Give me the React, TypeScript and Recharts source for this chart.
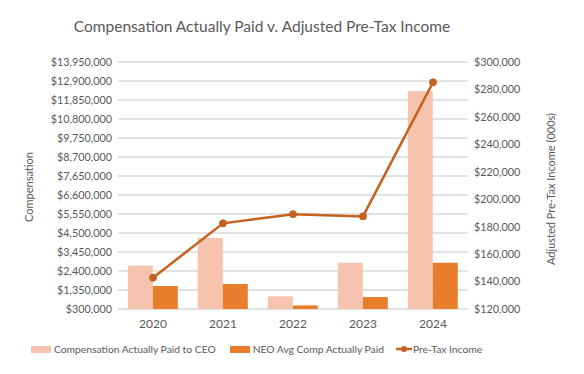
import React from 'react';
import { ComposedChart, Bar, Line, XAxis, YAxis, CartesianGrid } from 'recharts';

const years = ['2020', '2021', '2022', '2023', '2024'];
const ceoPaid = [2690000, 4220000, 1000000, 2850000, 12330000];
const neoAvgPaid = [1570000, 1680000, 500000, 960000, 2850000];
const preTaxIncome = [142800, 182400, 189100, 187500, 285200];

const compTicks = [300000, 1350000, 2400000, 3450000, 4500000, 5550000, 6600000, 7650000, 8700000, 9750000, 10800000, 11850000, 12900000, 13950000];
const incomeTicks = [120000, 140000, 160000, 180000, 200000, 220000, 240000, 260000, 280000, 300000];

const data = years.map((year, i) => ({
  year,
  ceo: ceoPaid[i],
  neo: neoAvgPaid[i],
  income: preTaxIncome[i],
}));

const FONT = 'Lato, "Open Sans", sans-serif';
const TEXT = '#595959';
const CEO_COLOR = '#F5C3AE';
const NEO_COLOR = '#E87D2B';
const LINE_COLOR = '#C5621F';

const money = (v: number) => '$' + v.toLocaleString('en-US');
const tick = { fill: TEXT, fontSize: 10.8, fontFamily: FONT };

const App: React.FC = () => {
  return (
    <div style={{ position: 'relative', width: 584, height: 374, margin: -8, background: '#fff', fontFamily: FONT }}>
      <div style={{ position: 'absolute', top: 17, left: 0, width: 524, textAlign: 'center', fontSize: 15.5, color: TEXT }}>
        Compensation Actually Paid v. Adjusted Pre-Tax Income
      </div>
      <div style={{ position: 'absolute', top: 0, left: 0 }}>
        <ComposedChart width={584} height={374} data={data} margin={{ top: 62, right: 0, left: 0, bottom: 45 }} barGap={0} barCategoryGap="14%">
          <CartesianGrid yAxisId="comp" vertical={false} stroke="#D9D9D9" strokeWidth={1.5} />
          <XAxis dataKey="year" height={20} axisLine={false} tickLine={false} tick={{ ...tick, fontSize: 12 }} tickMargin={4} />
          <YAxis
            yAxisId="comp"
            width={118}
            domain={[300000, 13950000]}
            ticks={compTicks}
            interval={0}
            axisLine={false}
            tickLine={false}
            tickSize={4}
            tickMargin={2}
            tick={tick}
            tickFormatter={money}
            label={{
              content: () => (
                <text x={28} y={187} transform="rotate(-90, 28, 187)" textAnchor="middle" dominantBaseline="central" fill={TEXT} fontSize={11} fontFamily={FONT}>
                  Compensation
                </text>
              ),
            }}
          />
          <YAxis
            yAxisId="income"
            orientation="right"
            width={116}
            domain={[120000, 300000]}
            ticks={incomeTicks}
            interval={0}
            axisLine={false}
            tickLine={false}
            tickSize={4}
            tickMargin={2}
            tick={tick}
            tickFormatter={money}
            label={{
              content: () => (
                <text x={550} y={189} transform="rotate(-90, 550, 189)" textAnchor="middle" dominantBaseline="central" fill={TEXT} fontSize={11} fontFamily={FONT}>
                  Adjusted Pre-Tax Income (000s)
                </text>
              ),
            }}
          />
          <Bar yAxisId="comp" dataKey="ceo" fill={CEO_COLOR} isAnimationActive={false} />
          <Bar yAxisId="comp" dataKey="neo" fill={NEO_COLOR} isAnimationActive={false} />
          <Line
            yAxisId="income"
            dataKey="income"
            type="linear"
            stroke={LINE_COLOR}
            strokeWidth={2.5}
            dot={{ r: 3.5, fill: LINE_COLOR, stroke: LINE_COLOR, strokeWidth: 1 }}
            isAnimationActive={false}
          />
        </ComposedChart>
      </div>
      <div style={{ position: 'absolute', top: 343, left: 31, display: 'flex', alignItems: 'center', fontSize: 10.3, color: TEXT, whiteSpace: 'nowrap' }}>
        <span style={{ display: 'inline-block', width: 20, height: 7, background: CEO_COLOR, marginRight: 3 }} />
        <span style={{ marginRight: 14 }}>Compensation Actually Paid to CEO</span>
        <span style={{ display: 'inline-block', width: 20, height: 7, background: NEO_COLOR, marginRight: 3 }} />
        <span style={{ marginRight: 12 }}>NEO Avg Comp Actually Paid</span>
        <svg width={16} height={10} style={{ marginRight: 1 }}>
          <line x1={0} y1={5} x2={16} y2={5} stroke={LINE_COLOR} strokeWidth={2.5} />
          <circle cx={8} cy={5} r={3} fill={LINE_COLOR} />
        </svg>
        <span>Pre-Tax Income</span>
      </div>
      <div style={{ position: 'absolute', inset: 0, border: '2px solid #ABABAB', pointerEvents: 'none' }} />
    </div>
  );
};

export default App;
